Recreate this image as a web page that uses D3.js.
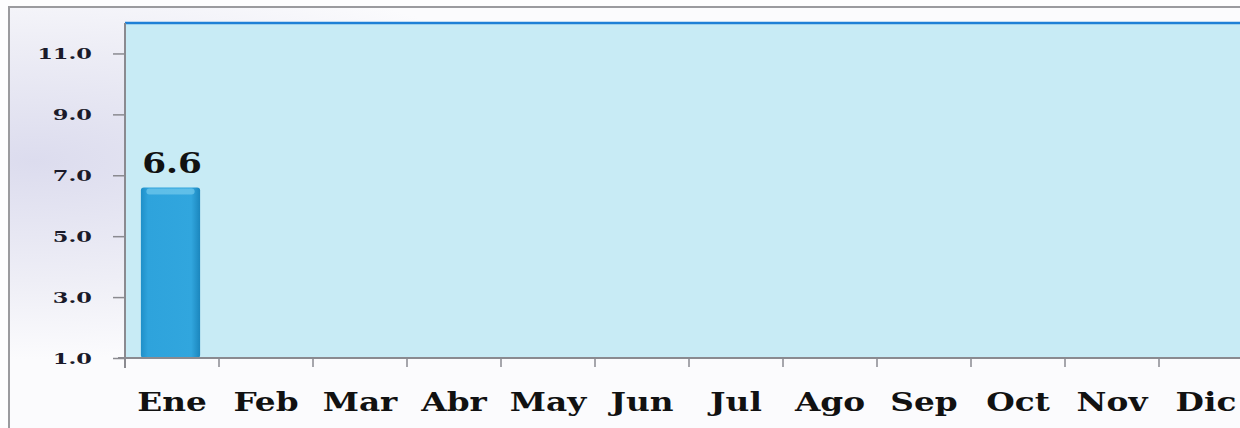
<!DOCTYPE html>
<html><head><meta charset="utf-8">
<script src="https://cdn.jsdelivr.net/npm/d3@7"></script>
<style>html,body{margin:0;padding:0;background:#fff;overflow:hidden}</style>
</head><body>
<svg id="c" width="1240" height="428"></svg>
<script>
const months = ["Ene","Feb","Mar","Abr","May","Jun","Jul","Ago","Sep","Oct","Nov","Dic"];
const values = [6.6, null, null, null, null, null, null, null, null, null, null, null];
const yTicks = [1, 3, 5, 7, 9, 11];

const svg = d3.select("#c");
const defs = svg.append("defs");

const bg = defs.append("radialGradient").attr("id","bg").attr("cx","0.02").attr("cy","0.35").attr("r","0.45");
bg.append("stop").attr("offset","0").attr("stop-color","#dcdcee");
bg.append("stop").attr("offset","0.6").attr("stop-color","#eeeef6");
bg.append("stop").attr("offset","1").attr("stop-color","#fbfbfd");

const bar = defs.append("linearGradient").attr("id","bar").attr("x1","0").attr("x2","1");
bar.append("stop").attr("offset","0").attr("stop-color","#1f8fc8");
bar.append("stop").attr("offset","0.12").attr("stop-color","#2ea3dc");
bar.append("stop").attr("offset","0.85").attr("stop-color","#31a6de");
bar.append("stop").attr("offset","1").attr("stop-color","#1b86bd");

svg.append("rect").attr("width",1240).attr("height",428).attr("fill","#fdfdfe");
svg.append("rect").attr("x",9).attr("y",7).attr("width",1240).attr("height",440)
  .attr("fill","url(#bg)").attr("stroke","#9a9a9e").attr("stroke-width",2);

const x = d3.scaleBand().domain(months).range([125, 1253]).padding(0);
const y = d3.scaleLinear().domain([1, 12]).range([358, 23]);

// plot area
svg.append("rect").attr("x",x.range()[0]).attr("y",y(12))
  .attr("width",x.range()[1]-x.range()[0]).attr("height",y(1)-y(12))
  .attr("fill","#c8ebf5");
svg.append("line").attr("x1",x.range()[0]).attr("x2",1240).attr("y1",y(12)).attr("y2",y(12))
  .attr("stroke","#1f80d6").attr("stroke-width",2.5);

// bars
const bw = x.bandwidth()*0.63;
const data = months.map((m,i)=>({m, v: values[i]})).filter(d=>d.v!=null);
svg.selectAll("rect.bar").data(data).join("rect").attr("class","bar")
  .attr("x",d=>x(d.m)+x.bandwidth()/2-bw/2-1.5).attr("width",bw)
  .attr("y",d=>y(d.v)).attr("height",d=>y(1)-y(d.v))
  .attr("rx",3).attr("fill","url(#bar)");
svg.selectAll("rect.hl").data(data).join("rect").attr("class","hl")
  .attr("x",d=>x(d.m)+x.bandwidth()/2-bw/2+4).attr("width",bw-11)
  .attr("y",d=>y(d.v)+1).attr("height",6).attr("rx",3)
  .attr("fill","#7fd0f0").attr("opacity",0.6);

// value labels
svg.selectAll("text.val").data(data).join("text").attr("class","val")
  .attr("transform",d=>`translate(${x(d.m)+x.bandwidth()/2},${y(d.v)-14}) scale(1.27,1)`)
  .attr("text-anchor","middle")
  .style("font-family","'DejaVu Serif'").style("font-weight","bold").style("font-size","27px")
  .attr("fill","#111").text(d=>d.v.toFixed(1));

// y axis
const yAxis = d3.axisLeft(y).tickValues(yTicks).tickSize(12).tickFormat("");
const ya = svg.append("g").attr("transform",`translate(${x.range()[0]},0)`).call(yAxis);
ya.select(".domain").remove();
ya.selectAll(".tick line").attr("stroke","#8a8a90").attr("stroke-width",1.5);
svg.append("line").attr("x1",125).attr("x2",125).attr("y1",y(12)).attr("y2",368)
  .attr("stroke","#8a8a90").attr("stroke-width",2);
svg.selectAll("text.yl").data(yTicks).join("text").attr("class","yl")
  .attr("transform",d=>`translate(92,${y(d)+5.5}) scale(1.5,1)`)
  .attr("text-anchor","end")
  .style("font-family","'DejaVu Serif'").style("font-weight","bold").style("font-size","15px")
  .attr("fill","#1a1a2a").text(d=>d.toFixed(1));

// x axis
svg.append("line").attr("x1",118).attr("x2",1240).attr("y1",y(1)).attr("y2",y(1))
  .attr("stroke","#8a8a90").attr("stroke-width",2);
const xa = svg.append("g").attr("transform",`translate(0,${y(1)})`)
  .call(d3.axisBottom(x).tickSize(0).tickFormat(""));
xa.select(".domain").remove();
svg.selectAll("line.xt").data(months).join("line").attr("class","xt")
  .attr("x1",d=>x(d)).attr("x2",d=>x(d)).attr("y1",y(1)).attr("y2",y(1)+9)
  .attr("stroke","#8a8a90").attr("stroke-width",1.5);
svg.selectAll("text.xl").data(months).join("text").attr("class","xl")
  .attr("transform",d=>`translate(${x(d)+x.bandwidth()/2},411) scale(1.26,1)`)
  .attr("text-anchor","middle")
  .style("font-family","'DejaVu Serif'").style("font-weight","bold").style("font-size","26px")
  .attr("fill","#111").text(d=>d);
</script>
</body></html>
